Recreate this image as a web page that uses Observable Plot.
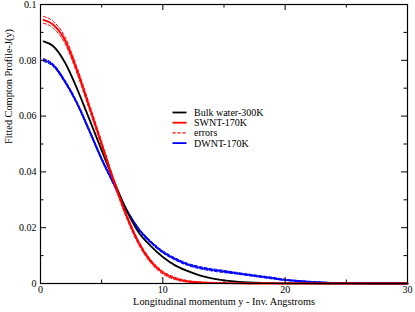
<!DOCTYPE html>
<html><head><meta charset="utf-8">
<script src="https://cdn.jsdelivr.net/npm/d3@7"></script>
<script src="https://cdn.jsdelivr.net/npm/@observablehq/plot@0.6"></script>
<style>
body{margin:0;background:#fff;}
#chart{width:415px;height:312px;}
</style></head><body><div id="chart"></div>
<script>
// Longitudinal momentum y (Inv. Angstroms)
const xs = [0.25,1,2,3,4,5,6,7,8,9,10,11,12,13,14,15,16,17,18,19,20,21,22,23,24,25,26,27,28,29,30];
// Bulk water-300K
const bulk = [0.0868,0.0852,0.0792,0.0697,0.0588,0.0477,0.0368,0.0266,0.0185,0.0135,0.0095,0.0065,0.0045,0.0029,0.0018,0.0011,0.0007,0.0004,0.0002,0.0001,0.00006,0.00003,0.00001,0,0,0,0,0,0,0,0];
// SWNT-170K
const swnt = [0.0945,0.0929,0.0872,0.0762,0.0632,0.0500,0.0366,0.0246,0.0148,0.0080,0.0039,0.0018,0.0008,0.0004,0.0002,0.0001,0.00005,0,0,0,0,0,0,0,0,0,0,0,0,0,0];
const swntErr = [0.0012,0.0012,0.0012,0.0011,0.0010,0.0009,0.0008,0.0008,0.0007,0.0006,0.0005,0.0004,0.0003,0.0002,0.0002,0.0001,0.0001,0.0001,0.0001,0.0001,0.0001,0.0001,0.0001,0.0001,0.0001,0.0001,0.0001,0.0001,0.0001,0.0001,0.0001];
// DWNT-170K
const dwnt = [0.0801,0.0784,0.0724,0.0645,0.0547,0.0446,0.0356,0.0266,0.0196,0.0149,0.0113,0.0088,0.0069,0.0057,0.0049,0.0043,0.0037,0.0031,0.0025,0.0019,0.0013,0.0009,0.0006,0.0004,0.0002,0.0001,0.00005,0,0,0,0];
const dwntErr = [0.0005,0.0005,0.0005,0.0005,0.0005,0.0005,0.0005,0.0005,0.0005,0.0004,0.0004,0.0004,0.0004,0.0004,0.0004,0.0004,0.0003,0.0003,0.0003,0.0003,0.0002,0.0002,0.0002,0.0001,0.0001,0.0001,0.0001,0.0001,0.0001,0.0001,0.0001];

const xMajor = [0,10,20,30];
const xMinor = [5,15,25];
const yMajor = [0,0.02,0.04,0.06,0.08,0.1];
const yMinor = [0.01,0.03,0.05,0.07,0.09];
const xTitle = "Longitudinal momentum y - Inv. Angstroms";
const yTitle = "Fitted Compton Profile-J(y)";
const legendItems = [
  {label:"Bulk water-300K", color:"#000000", dash:null},
  {label:"SWNT-170K", color:"#ff0000", dash:null},
  {label:"errors", color:"#ff0000", dash:"3,2"},
  {label:"DWNT-170K", color:"#0000ff", dash:null}
];

const rows = xs.map((x,i)=>({
  x,
  bulk: bulk[i],
  swnt: swnt[i], swntHi: swnt[i]+swntErr[i], swntLo: Math.max(0, swnt[i]-swntErr[i]),
  dwnt: dwnt[i], dwntHi: dwnt[i]+dwntErr[i], dwntLo: Math.max(0, dwnt[i]-dwntErr[i])
}));

const W=415, H=312, mL=40, mR=8, mT=4, mB=29;
const iW = W-mL-mR, iH = H-mT-mB;
const font = '"Liberation Serif","Times New Roman",serif';
const major = 6, minor = 3.5;

const plot = Plot.plot({
  width: W, height: H,
  marginLeft: mL, marginRight: mR, marginTop: mT, marginBottom: mB,
  x: {domain:[0,30]},
  y: {domain:[0,0.1]},
  style: {fontFamily: font, fontSize: "10px", background: "#fff", color: "#000"},
  marks: [
    // curves
    Plot.line(rows, {x:"x", y:"dwntHi", stroke:"#0000ff", strokeWidth:1, strokeDasharray:"3,2", curve:"monotone-x"}),
    Plot.line(rows, {x:"x", y:"dwntLo", stroke:"#0000ff", strokeWidth:1, strokeDasharray:"3,2", curve:"monotone-x"}),
    Plot.line(rows, {x:"x", y:"dwnt", stroke:"#0000ff", strokeWidth:1.8, curve:"monotone-x"}),
    Plot.line(rows, {x:"x", y:"bulk", stroke:"#000000", strokeWidth:1.8, curve:"monotone-x"}),
    Plot.line(rows, {x:"x", y:"swnt", stroke:"#ff0000", strokeWidth:1.8, curve:"monotone-x"}),
    Plot.line(rows, {x:"x", y:"swntHi", stroke:"#ff0000", strokeWidth:1, strokeDasharray:"3,2", curve:"monotone-x"}),
    Plot.line(rows, {x:"x", y:"swntLo", stroke:"#ff0000", strokeWidth:1, strokeDasharray:"3,2", curve:"monotone-x"}),
    // inward ticks, bottom and top
    Plot.tickX(xMajor, {x:d=>d, insetTop: iH-major, stroke:"#000"}),
    Plot.tickX(xMinor, {x:d=>d, insetTop: iH-minor, stroke:"#000"}),
    Plot.tickX(xMajor, {x:d=>d, insetBottom: iH-major, stroke:"#000"}),
    Plot.tickX(xMinor, {x:d=>d, insetBottom: iH-minor, stroke:"#000"}),
    // inward ticks, left and right
    Plot.tickY(yMajor, {y:d=>d, insetRight: iW-major, stroke:"#000"}),
    Plot.tickY(yMinor, {y:d=>d, insetRight: iW-minor, stroke:"#000"}),
    Plot.tickY(yMajor, {y:d=>d, insetLeft: iW-major, stroke:"#000"}),
    Plot.tickY(yMinor, {y:d=>d, insetLeft: iW-minor, stroke:"#000"}),
    Plot.frame({stroke:"#000", strokeWidth:1.2}),
    // tick labels
    Plot.axisX(xMajor, {tickSize:0, tickPadding:2, label:null, fontSize:10}),
    Plot.axisY(yMajor, {tickSize:0, tickPadding:4, label:null, fontSize:10, tickFormat: d=>String(d)}),
    // axis titles
    Plot.text([xTitle], {text:d=>d, frameAnchor:"bottom", dy:21, fontSize:10.3}),
    Plot.text([yTitle], {text:d=>d, frameAnchor:"left", rotate:-90, dx:-32, fontSize:10.3})
  ]
});

document.getElementById("chart").appendChild(plot);

// legend inside the plot area
const svg = d3.select(plot);
const lg = svg.append("g").attr("font-family", font).attr("font-size", 10).attr("text-anchor", "start");
legendItems.forEach((d,i)=>{
  const y = 112.5 + i*10.2;
  lg.append("line").attr("x1",172.5).attr("x2",186.5).attr("y1",y).attr("y2",y)
    .attr("stroke",d.color).attr("stroke-width", d.dash ? 1.2 : 1.8)
    .attr("stroke-dasharray", d.dash);
  lg.append("text").attr("x",194).attr("y",y).attr("dy","0.35em")
    .attr("text-anchor","start").attr("fill","#000").text(d.label);
});
</script>
</body></html>
